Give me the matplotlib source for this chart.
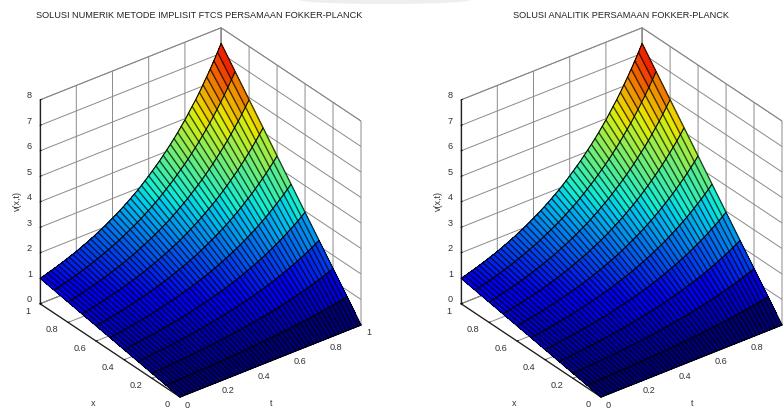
import numpy as np
import matplotlib
matplotlib.use('Agg')
import matplotlib.pyplot as plt
from matplotlib.patches import Ellipse
from mpl_toolkits.mplot3d import proj3d

plt.rcParams['font.family'] = ['Liberation Sans', 'DejaVu Sans']

# values read along the back edge of the surface (x = 1), t = 0 ... 1
t_grid = [0.00, 0.02, 0.04, 0.06, 0.08, 0.10, 0.12, 0.14, 0.16, 0.18,
          0.20, 0.22, 0.24, 0.26, 0.28, 0.30, 0.32, 0.34, 0.36, 0.38,
          0.40, 0.42, 0.44, 0.46, 0.48, 0.50, 0.52, 0.54, 0.56, 0.58,
          0.60, 0.62, 0.64, 0.66, 0.68, 0.70, 0.72, 0.74, 0.76, 0.78,
          0.80, 0.82, 0.84, 0.86, 0.88, 0.90, 0.92, 0.94, 0.96, 0.98, 1.00]
v_edge = [1.00, 1.04, 1.08, 1.13, 1.17, 1.22, 1.27, 1.32, 1.38, 1.43,
          1.49, 1.55, 1.62, 1.68, 1.75, 1.82, 1.90, 1.97, 2.05, 2.14,
          2.23, 2.32, 2.41, 2.51, 2.61, 2.72, 2.83, 2.94, 3.06, 3.19,
          3.32, 3.46, 3.60, 3.74, 3.90, 4.06, 4.22, 4.39, 4.57, 4.76,
          4.95, 5.16, 5.37, 5.58, 5.81, 6.05, 6.30, 6.55, 6.82, 7.10, 7.39]
# the surface rises straight from 0 at x = 0 to the edge value at x = 1
x_grid = [0.0, 0.1, 0.2, 0.3, 0.4, 0.5, 0.6, 0.7, 0.8, 0.9, 1.0]

unit_ticks = [0, 0.2, 0.4, 0.6, 0.8, 1]
unit_labels = ['0', '0.2', '0.4', '0.6', '0.8', '1']
v_ticks = [0, 1, 2, 3, 4, 5, 6, 7, 8]

title_left = 'SOLUSI NUMERIK METODE IMPLISIT FTCS PERSAMAAN FOKKER-PLANCK'
title_right = 'SOLUSI ANALITIK PERSAMAAN FOKKER-PLANCK'

W, H = 784, 409
fig = plt.figure(figsize=(W / 100, H / 100), dpi=100)


def corner(ax, x, y, z):
    X, Y, _ = proj3d.proj_transform(x, y, z, ax.get_proj())
    return ax.transData.transform((X, Y))


def fit_axes(ax, front_px, right_px):
    # move the square 3d axes so the floor corners land on given pixels
    fig.canvas.draw()
    p0, p1 = corner(ax, 0, 0, 0), corner(ax, 1, 0, 0)
    pos = ax.get_position()
    s = (right_px[0] - front_px[0]) / (p1[0] - p0[0])
    ax.set_position([pos.x0, pos.y0, pos.width * s, pos.height * s])
    fig.canvas.draw()
    p0 = corner(ax, 0, 0, 0)
    pos = ax.get_position()
    dx = (front_px[0] - p0[0]) / W
    dy = (H - front_px[1] - p0[1]) / H
    ax.set_position([pos.x0 + dx, pos.y0 + dy, pos.width, pos.height])
    fig.canvas.draw()


def tick_text(ax, point, label, dx, dy, ha):
    # label placed a fixed number of pixels away from the projected tick
    px = corner(ax, *point)
    ax.text2D((px[0] + dx) / W, (px[1] - dy) / H, label, transform=fig.transFigure,
              fontsize=6.6, color='#333333', ha=ha, va='center')


def draw_panel(front_px, right_px, title, title_x, off, t_labels):
    ax = fig.add_axes([0.05, 0.05, 0.4, 0.4 * W / H], projection='3d')
    ax.patch.set_visible(False)
    ax.set_proj_type('ortho')
    ax.view_init(elev=31, azim=-127.7)
    ax.set_box_aspect((1, 1, 1.04))
    ax.computed_zorder = False

    T, X = np.meshgrid(t_grid, x_grid)
    V = np.outer(x_grid, v_edge)
    colors = plt.cm.jet(V / np.max(V))
    colors[..., :3] *= 0.93
    ax.plot_surface(T, X, V, rstride=1, cstride=1, facecolors=colors, shade=False,
                    linewidth=0, antialiased=False, zorder=3)
    ax.plot_wireframe(T, X, V, rstride=0, cstride=1, color='black', linewidth=1.0,
                      alpha=0.7, zorder=4)
    ax.plot_wireframe(T, X, V, rstride=1, cstride=0, color='black', linewidth=0.8,
                      zorder=5)

    ax.set_xlim(0, 1, view_margin=0)
    ax.set_ylim(0, 1, view_margin=0)
    ax.set_zlim(0, 8, view_margin=0)
    ax.set_xticks(unit_ticks)
    ax.set_yticks(unit_ticks)
    ax.set_zticks(v_ticks)
    ax.set_xticklabels([])
    ax.set_yticklabels([])
    ax.set_zticklabels([])

    for axis in (ax.xaxis, ax.yaxis, ax.zaxis):
        axis.set_pane_color((1, 1, 1, 1))
        axis.pane.set_edgecolor('#808080')
        axis.pane.set_linewidth(0.7)
        axis.line.set_color('#222222')
        axis.line.set_linewidth(0.9)
        axis._axinfo['grid'].update(color='#8a8a8a', linewidth=0.7)
        axis._axinfo['tick'].update(inward_factor=0.0, outward_factor=0.08)
        axis._axinfo['tick']['linewidth'] = {True: 0.6, False: 0.4}

    fit_axes(ax, front_px, right_px)

    for t, label in zip(unit_ticks, t_labels):
        tick_text(ax, (t, 0, 0), label, 5, 8, 'left')
    for x, label in zip(unit_ticks, unit_labels):
        tick_text(ax, (0, x, 0), label, -10, 7.5, 'right')
    for v in v_ticks:
        tick_text(ax, (0, 1, v), str(v), -8, -4, 'right')

    # axis names sit at fixed spots below and beside the box
    ax.text2D((off + 271) / W, 1 - 403 / H, 't', transform=fig.transFigure, fontsize=6.5,
              color='#333333', ha='center', va='center')
    ax.text2D((off + 93) / W, 1 - 403 / H, 'x', transform=fig.transFigure, fontsize=6.5,
              color='#333333', ha='center', va='center')
    ax.text2D((off + 17) / W, 1 - 201 / H, 'v(x,t)', transform=fig.transFigure, fontsize=6.5,
              color='#333333', rotation=90, ha='center', va='center')
    fig.text(title_x / W, 1 - 16 / H, title, fontsize=6.6, color='#222222',
             ha='center', va='center')
    return ax


draw_panel((180, 397), (361, 325), title_left, 199, 0, unit_labels)
# the last t label of the right panel falls outside the page in the reference
draw_panel((601, 397), (782, 325), title_right, 621, 421, unit_labels[:-1])

# pale smudge along the top edge of the page
fig.add_artist(Ellipse((385 / W, 1.0), 170 / W, 8 / H, transform=fig.transFigure,
                       facecolor='#eceef0', edgecolor='none'))

fig.savefig('out.png', dpi=100)
